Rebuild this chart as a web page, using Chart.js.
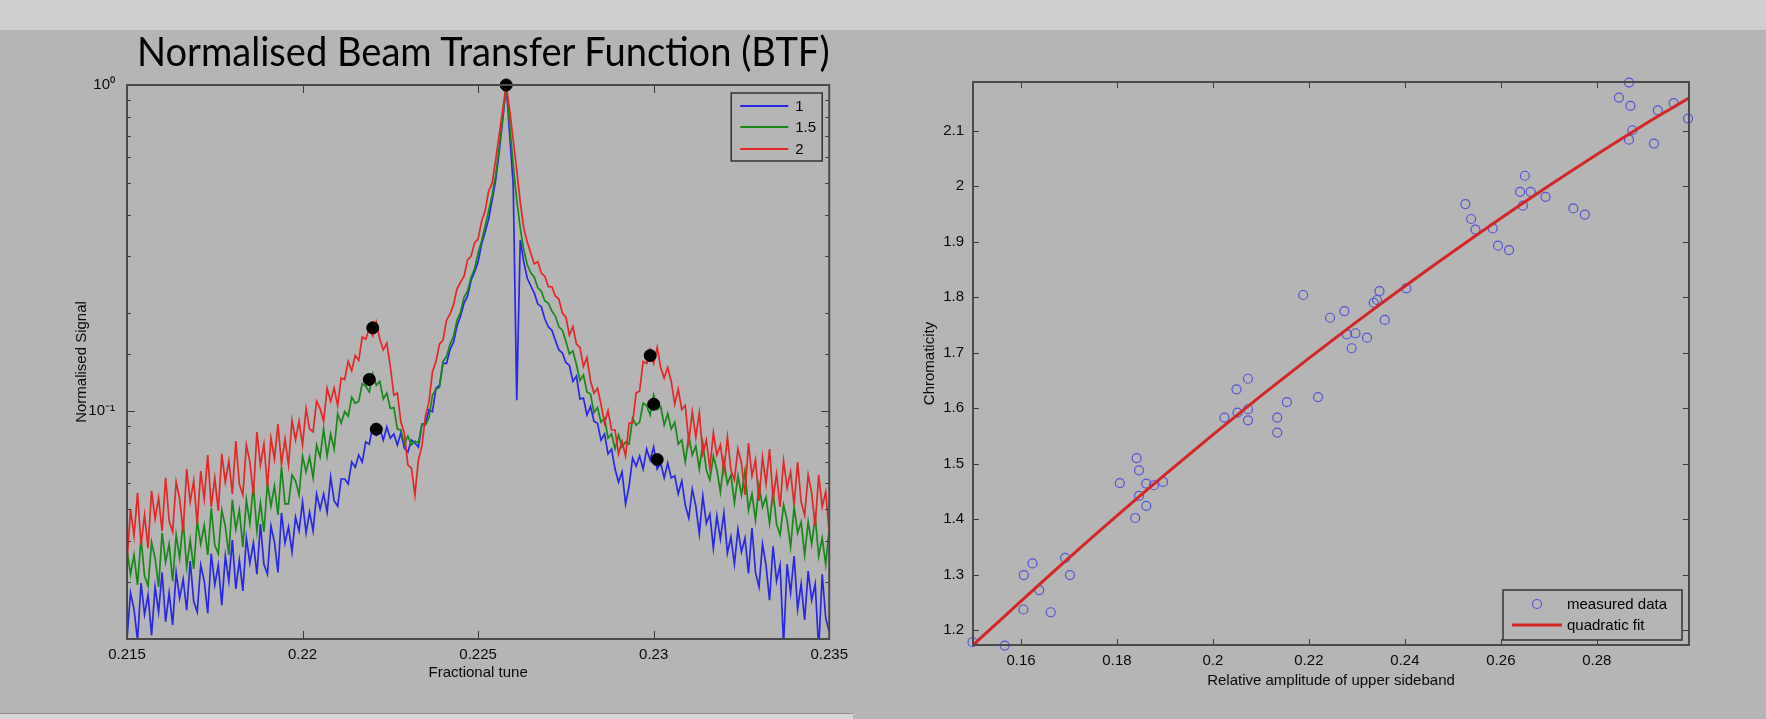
<!DOCTYPE html>
<html>
<head>
<meta charset="utf-8">
<title>BTF and chromaticity</title>
<script src="https://cdn.jsdelivr.net/npm/chart.js@4.4.1/dist/chart.umd.min.js"></script>
<style>
  body { margin: 0; width: 1766px; height: 719px; background: #b5b5b5; position: relative; overflow: hidden; }
  #topStrip { position: absolute; left: 0; top: 0; width: 1766px; height: 30px; background: #cfcfcf; }
  #leftFoot { position: absolute; left: 0; top: 713px; width: 853px; height: 6px; background: #d6d6d6; border-top: 1px solid #8c8c8c; }
  #btfTitle { position: absolute; left: 137px; top: 31px; font-family: Lato, "Open Sans", sans-serif; font-size: 40px; line-height: 40px; color: #000; white-space: nowrap; transform-origin: 0 0; }
  #leftBox { position: absolute; left: 0; top: 0; }
  #rightBox { position: absolute; left: 855px; top: 0; }
</style>
</head>
<body>
<div id="topStrip"></div>
<div id="leftFoot"></div>
<div id="leftBox"><canvas id="btfChart" width="855" height="719"></canvas></div>
<div id="rightBox"><canvas id="chromaChart" width="911" height="719"></canvas></div>
<div id="btfTitle">Normalised Beam Transfer Function (BTF)</div>
<script>
// ---- left panel: normalised BTF, one trace per setting ----
const tune = [
  0.2150,0.2151,0.2152,0.2153,0.2154,0.2155,0.2156,0.2157,0.2158,0.2159,
  0.2160,0.2161,0.2162,0.2163,0.2164,0.2165,0.2166,0.2167,0.2168,0.2169,
  0.2170,0.2171,0.2172,0.2173,0.2174,0.2175,0.2176,0.2177,0.2178,0.2179,
  0.2180,0.2181,0.2182,0.2183,0.2184,0.2185,0.2186,0.2187,0.2188,0.2189,
  0.2190,0.2191,0.2192,0.2193,0.2194,0.2195,0.2196,0.2197,0.2198,0.2199,
  0.2200,0.2201,0.2202,0.2203,0.2204,0.2205,0.2206,0.2207,0.2208,0.2209,
  0.2210,0.2211,0.2212,0.2213,0.2214,0.2215,0.2216,0.2217,0.2218,0.2219,
  0.2220,0.2221,0.2222,0.2223,0.2224,0.2225,0.2226,0.2227,0.2228,0.2229,
  0.2230,0.2231,0.2232,0.2233,0.2234,0.2235,0.2236,0.2237,0.2238,0.2239,
  0.2240,0.2241,0.2242,0.2243,0.2244,0.2245,0.2246,0.2247,0.2248,0.2249,
  0.2250,0.2251,0.2252,0.2253,0.2254,0.2255,0.2256,0.2257,0.2258,0.2259,
  0.2260,0.2261,0.2262,0.2263,0.2264,0.2265,0.2266,0.2267,0.2268,0.2269,
  0.2270,0.2271,0.2272,0.2273,0.2274,0.2275,0.2276,0.2277,0.2278,0.2279,
  0.2280,0.2281,0.2282,0.2283,0.2284,0.2285,0.2286,0.2287,0.2288,0.2289,
  0.2290,0.2291,0.2292,0.2293,0.2294,0.2295,0.2296,0.2297,0.2298,0.2299,
  0.2300,0.2301,0.2302,0.2303,0.2304,0.2305,0.2306,0.2307,0.2308,0.2309,
  0.2310,0.2311,0.2312,0.2313,0.2314,0.2315,0.2316,0.2317,0.2318,0.2319,
  0.2320,0.2321,0.2322,0.2323,0.2324,0.2325,0.2326,0.2327,0.2328,0.2329,
  0.2330,0.2331,0.2332,0.2333,0.2334,0.2335,0.2336,0.2337,0.2338,0.2339,
  0.2340,0.2341,0.2342,0.2343,0.2344,0.2345,0.2346,0.2347,0.2348,0.2349,
  0.2350
];

const signal1 = [
  .0200,.0277,.0247,.0198,.0297,.0238,.0273,.0205,.0289,.0242,
  .0320,.0226,.0277,.0221,.0320,.0267,.0305,.0245,.0347,.0261,
  .0242,.0337,.0301,.0240,.0365,.0293,.0337,.0254,.0359,.0301,
  .0402,.0285,.0349,.0281,.0408,.0342,.0394,.0316,.0450,.0339,
  .0316,.0444,.0396,.0320,.0487,.0394,.0441,.0370,.0473,.0429,
  .0527,.0423,.0490,.0429,.0557,.0501,.0557,.0490,.0628,.0530,
  .0511,.0619,.0619,.0598,.0698,.0673,.0733,.0698,.0804,.0792,
  .0900,.0844,.0887,.0815,.0893,.0826,.0851,.0787,.0857,.0770,
  .0749,.0815,.0798,.0776,.0912,.0912,.1011,.0996,.1175,.1200,
  .1400,.1400,.1545,.1627,.1827,.1956,.2144,.2254,.2520,.2672,
  .2869,.3256,.3540,.3878,.4440,.5110,.6230,.7810,1.000,.7030,
  .4940,.1080,.3350,.2869,.2555,.2423,.2301,.2129,.2090,.1915,
  .1814,.1770,.1650,.1540,.1508,.1410,.1380,.1233,.1281,.1089,
  .1096,.0972,.1033,.0931,.0918,.0815,.0851,.0739,.0765,.0664,
  .0606,.0651,.0519,.0589,.0718,.0678,.0728,.0664,.0765,.0708,
  .0776,.0664,.0693,.0624,.0693,.0624,.0633,.0557,.0611,.0515,
  .0470,.0576,.0511,.0420,.0549,.0453,.0483,.0380,.0477,.0405,
  .0487,.0367,.0411,.0339,.0434,.0370,.0408,.0318,.0438,.0320,
  .0289,.0391,.0337,.0263,.0385,.0301,.0337,.0192,.0339,.0277,
  .0359,.0247,.0295,.0229,.0323,.0263,.0295,.0185,.0316,.0232,
  .0210
];

const signal15 = [
  .0375,.0316,.0362,.0293,.0408,.0312,.0291,.0396,.0354,.0289,
  .0423,.0344,.0391,.0301,.0417,.0354,.0460,.0332,.0402,.0328,
  .0460,.0391,.0447,.0362,.0504,.0388,.0365,.0497,.0444,.0362,
  .0534,.0434,.0497,.0383,.0534,.0453,.0593,.0429,.0523,.0426,
  .0602,.0511,.0589,.0480,.0673,.0519,.0519,.0637,.0611,.0553,
  .0728,.0651,.0723,.0624,.0787,.0723,.0881,.0728,.0851,.0765,
  .0982,.0918,.0996,.0965,.1104,.1057,.1072,.1215,.1192,.1144,
  .1300,.1200,.1233,.1089,.1136,.1018,.1025,.0881,.0875,.0792,
  .0838,.0787,.0809,.0798,.0912,.0906,.0952,.1120,.1166,.1183,
  .1420,.1469,.1604,.1698,.1900,.2011,.2238,.2333,.2573,.2731,
  .3054,.3326,.3694,.4111,.4600,.5300,.6410,.7920,1.000,.7540,
  .5680,.4440,.3640,.3120,.2810,.2653,.2573,.2389,.2333,.2175,
  .2144,.2026,.1956,.1814,.1770,.1638,.1497,.1529,.1390,.1241,
  .1290,.1144,.1128,.0989,.1025,.0925,.0952,.0826,.0851,.0765,
  .0844,.0776,.0804,.0792,.0952,.0906,.0925,.1057,.1040,.0972,
  .1120,.1011,.1033,.0906,.0982,.0881,.0925,.0792,.0815,.0698,
  .0838,.0733,.0781,.0664,.0798,.0660,.0615,.0728,.0660,.0565,
  .0703,.0598,.0637,.0523,.0633,.0553,.0655,.0497,.0557,.0463,
  .0593,.0508,.0545,.0453,.0569,.0450,.0417,.0515,.0463,.0383,
  .0508,.0423,.0457,.0362,.0457,.0391,.0473,.0359,.0408,.0339,
  .0438
];

const signal2 = [
  .0344,.0501,.0414,.0561,.0388,.0480,.0380,.0569,.0467,.0541,
  .0429,.0624,.0460,.0426,.0606,.0538,.0426,.0664,.0527,.0611,
  .0450,.0655,.0538,.0733,.0508,.0624,.0494,.0739,.0606,.0703,
  .0557,.0809,.0598,.0553,.0787,.0698,.0553,.0863,.0683,.0792,
  .0585,.0826,.0712,.0912,.0688,.0820,.0683,.0938,.0815,.0931,
  .0787,.1018,.0881,.0863,.1072,.1018,.0931,.1175,.1072,.1175,
  .1040,.1263,.1250,.1420,.1330,.1480,.1430,.1686,.1662,.1789,
  .1698,.1873,.1662,.1540,.1615,.1370,.1120,.1136,.0925,.0857,
  .0683,.0669,.0553,.0708,.0781,.0965,.1065,.1321,.1420,.1604,
  .1650,.1900,.1983,.2120,.2372,.2485,.2592,.2910,.2989,.3280,
  .3373,.3823,.4111,.4727,.5000,.5890,.7030,.8380,1.000,.8380,
  .6780,.5490,.4380,.3640,.3300,.3050,.2830,.2870,.2650,.2590,
  .2406,.2406,.2254,.2206,.1997,.1942,.1710,.1814,.1604,.1568,
  .1370,.1459,.1241,.1136,.1175,.1050,.0918,.1003,.0875,.0875,
  .0739,.0809,.0728,.0918,.0918,.1136,.1152,.1420,.1400,.1540,
  .1400,.1568,.1360,.1263,.1360,.1233,.1050,.1166,.1010,.1040,
  .0804,.0996,.0832,.0989,.0739,.0815,.0669,.0857,.0733,.0787,
  .0655,.0832,.0660,.0615,.0765,.0693,.0553,.0798,.0633,.0708,
  .0530,.0723,.0598,.0765,.0538,.0642,.0508,.0703,.0581,.0651,
  .0515,.0698,.0527,.0480,.0637,.0561,.0444,.0637,.0508,.0565,
  .0423
];

// black markers on the main line and the two sidebands
const peakTune = [0.2258, 0.2220, 0.2219, 0.2221, 0.2299, 0.2300, 0.2301];
const peakSignal = [1, 0.180, 0.125, 0.088, 0.148, 0.105, 0.071];

const tuneTicks = [0.215, 0.22, 0.225, 0.23, 0.235];
const logTickLabels = { "0": "10\u2070", "-1": "10\u207B\u00B9" };

// ---- right panel: chromaticity vs sideband amplitude ----
const sidebandAmp = [
  0.1499,0.1566,0.1605,0.1606,0.1624,0.1638,0.1662,0.1692,0.1702,0.1806,
  0.1838,0.1841,0.1846,0.1846,0.1861,0.1861,0.1877,0.1896,0.2024,0.2049,
  0.2051,0.2073,0.2073,0.2073,0.2134,0.2134,0.2154,0.2188,0.2219,0.2244,
  0.2274,0.2279,0.2289,0.2297,0.2321,0.2335,0.2342,0.2347,0.2358,0.2403,
  0.2526,0.2538,0.2547,0.2583,0.2594,0.2617,0.2640,0.2650,0.2646,0.2662,
  0.2693,0.2751,0.2775,0.2846,0.2867,0.2870,0.2874,0.2867,0.2919,0.2927,
  0.2960,0.2990
];
const chromaticity = [
  1.178,1.172,1.237,1.299,1.320,1.272,1.232,1.330,1.299,1.465,
  1.402,1.510,1.488,1.442,1.464,1.424,1.461,1.467,1.583,1.634,
  1.592,1.653,1.598,1.578,1.583,1.556,1.611,1.804,1.620,1.763,
  1.775,1.733,1.708,1.735,1.727,1.790,1.795,1.811,1.759,1.816,
  1.968,1.941,1.922,1.924,1.893,1.885,1.990,2.019,1.965,1.990,
  1.981,1.960,1.949,2.160,2.187,2.145,2.101,2.084,2.077,2.137,
  2.150,2.122
];
const fitAmp = [0.15, 0.17, 0.19, 0.21, 0.23, 0.25, 0.27, 0.29, 0.2992];
const fitChroma = [1.173, 1.330, 1.480, 1.622, 1.756, 1.882, 2.001, 2.112, 2.159];

const ampTicks = [0.16, 0.18, 0.2, 0.22, 0.24, 0.26, 0.28];
const chromaTicks = [1.2, 1.3, 1.4, 1.5, 1.6, 1.7, 1.8, 1.9, 2, 2.1];

const panelGrey = "#b5b5b5";

Chart.defaults.font.family = "'Liberation Sans', Arial, sans-serif";
Chart.defaults.font.size = 15;
Chart.defaults.color = "#0a0a0a";

function pairs(xs, ys) {
   return xs.map((x, i) => ({ x: x, y: ys[i] }));
}

// MATLAB-style box: inward ticks on all four sides plus an in-axes legend
const matlabAxes = {
   id: "matlabAxes",
   afterDraw(chart, args, opts) {
      const { ctx, chartArea: a, scales } = chart;
      const xs = scales.x;
      const ys = scales.y;
      ctx.save();
      ctx.strokeStyle = "#3a3a3a";
      ctx.lineWidth = 1;
      ctx.beginPath();
      xs.ticks.forEach((t) => {
         const px = Math.round(xs.getPixelForValue(t.value)) + 0.5;
         ctx.moveTo(px, a.bottom);
         ctx.lineTo(px, a.bottom - opts.tickLen);
         ctx.moveTo(px, a.top);
         ctx.lineTo(px, a.top + opts.tickLen);
      });
      ys.ticks.forEach((t) => {
         const len = t.label ? opts.tickLen : opts.minorLen;
         const py = Math.round(ys.getPixelForValue(t.value)) + 0.5;
         ctx.moveTo(a.left, py);
         ctx.lineTo(a.left + len, py);
         ctx.moveTo(a.right, py);
         ctx.lineTo(a.right - len, py);
      });
      ctx.stroke();

      ctx.lineWidth = 2;
      ctx.strokeStyle = "#4a4a4a";
      ctx.strokeRect(a.left, a.top, a.right - a.left, a.bottom - a.top);

      // legend
      const lg = opts.legend;
      const bx = a.right - lg.right - lg.width;
      const by = lg.top !== undefined ? a.top + lg.top : a.bottom - lg.bottom - lg.height;
      ctx.fillStyle = panelGrey;
      ctx.fillRect(bx, by, lg.width, lg.height);
      ctx.lineWidth = 1.5;
      ctx.strokeStyle = "#333";
      ctx.strokeRect(bx, by, lg.width, lg.height);
      ctx.font = "15px 'Liberation Sans', Arial, sans-serif";
      ctx.textBaseline = "middle";
      ctx.textAlign = "left";
      lg.items.forEach((it, i) => {
         const ds = chart.data.datasets[it.ds];
         const cy = by + lg.rowY[i];
         ctx.strokeStyle = ds.borderColor;
         if (it.kind === "line") {
            ctx.lineWidth = it.width || ds.borderWidth;
            ctx.beginPath();
            ctx.moveTo(bx + lg.x0, cy);
            ctx.lineTo(bx + lg.x1, cy);
            ctx.stroke();
         } else {
            ctx.lineWidth = ds.borderWidth;
            ctx.beginPath();
            ctx.arc(bx + lg.mx, cy, ds.pointRadius, 0, Math.PI * 2);
            ctx.stroke();
         }
         ctx.fillStyle = "#000";
         ctx.fillText(ds.label, bx + lg.textX, cy + 1);
      });
      ctx.restore();
   },
};

const btfColors = { one: "rgb(40,40,228)", onehalf: "rgb(25,135,25)", two: "rgb(228,38,38)" };

new Chart(document.getElementById("btfChart"), {
   type: "line",
   data: {
      datasets: [
         { label: "1", data: pairs(tune, signal1), borderColor: btfColors.one, borderWidth: 1.7, pointRadius: 0, order: 3 },
         { label: "1.5", data: pairs(tune, signal15), borderColor: btfColors.onehalf, borderWidth: 1.7, pointRadius: 0, order: 2 },
         { label: "2", data: pairs(tune, signal2), borderColor: btfColors.two, borderWidth: 1.7, pointRadius: 0, order: 1 },
         {
            label: "peaks",
            data: pairs(peakTune, peakSignal),
            showLine: false,
            pointRadius: 6,
            backgroundColor: "#000",
            borderColor: "#000",
            order: 0,
            clip: false,
         },
      ],
   },
   options: {
      responsive: false,
      animation: false,
      events: [],
      layout: { padding: { left: 0, right: 24, top: 85, bottom: 0 } },
      scales: {
         x: {
            type: "linear",
            min: 0.215,
            max: 0.235,
            afterBuildTicks: (s) => {
               s.ticks = tuneTicks.map((v) => ({ value: v }));
            },
            afterFit: (s) => {
               s.height = 80;
            },
            grid: { display: false, drawTicks: false },
            border: { display: false },
            ticks: { padding: 7, autoSkip: false, maxRotation: 0, callback: (v) => String(v) },
            title: { display: true, text: "Fractional tune", padding: { top: 0, bottom: 37 } },
         },
         y: {
            type: "logarithmic",
            min: 0.02,
            max: 1,
            afterFit: (s) => {
               s.width = 127;
            },
            grid: { display: false, drawTicks: false },
            border: { display: false },
            ticks: {
               padding: 12,
               autoSkip: false,
               callback: (v) => {
                  const e = Math.log10(v);
                  if (Math.abs(e - Math.round(e)) < 1e-6) return logTickLabels[String(Math.round(e))] || "";
                  return "";
               },
            },
            title: { display: true, text: "Normalised Signal", padding: { top: 73, bottom: 0 } },
         },
      },
      plugins: {
         legend: { display: false },
         tooltip: { enabled: false },
         matlabAxes: {
            tickLen: 8,
            minorLen: 4,
            legend: {
               right: 7,
               top: 8,
               width: 91,
               height: 68,
               x0: 9,
               x1: 57,
               textX: 64,
               rowY: [13, 34, 56],
               items: [
                  { ds: 0, kind: "line", width: 2 },
                  { ds: 1, kind: "line", width: 2 },
                  { ds: 2, kind: "line", width: 2 },
               ],
            },
         },
      },
   },
   plugins: [matlabAxes],
});

new Chart(document.getElementById("chromaChart"), {
   type: "line",
   data: {
      datasets: [
         {
            label: "measured data",
            data: pairs(sidebandAmp, chromaticity),
            showLine: false,
            pointStyle: "circle",
            pointRadius: 4.5,
            backgroundColor: "rgba(0,0,0,0)",
            borderColor: "rgb(85,85,215)",
            borderWidth: 1.2,
            order: 1,
            clip: false,
         },
         {
            label: "quadratic fit",
            data: pairs(fitAmp, fitChroma),
            borderColor: "rgb(212,38,38)",
            borderWidth: 3,
            pointRadius: 0,
            cubicInterpolationMode: "monotone",
            order: 0,
         },
      ],
   },
   options: {
      responsive: false,
      animation: false,
      events: [],
      layout: { padding: { left: 0, right: 77, top: 82, bottom: 0 } },
      scales: {
         x: {
            type: "linear",
            min: 0.15,
            max: 0.2992,
            afterBuildTicks: (s) => {
               s.ticks = ampTicks.map((v) => ({ value: v }));
            },
            afterFit: (s) => {
               s.height = 74;
            },
            grid: { display: false, drawTicks: false },
            border: { display: false },
            ticks: { padding: 7, autoSkip: false, maxRotation: 0, callback: (v) => String(v) },
            title: { display: true, text: "Relative amplitude of upper sideband", padding: { top: 0, bottom: 29 } },
         },
         y: {
            type: "linear",
            min: 1.173,
            max: 2.188,
            afterBuildTicks: (s) => {
               s.ticks = chromaTicks.map((v) => ({ value: v }));
            },
            afterFit: (s) => {
               s.width = 118;
            },
            grid: { display: false, drawTicks: false },
            border: { display: false },
            ticks: { padding: 9, autoSkip: false, callback: (v) => String(v) },
            title: { display: true, text: "Chromaticity", padding: { top: 66, bottom: 0 } },
         },
      },
      plugins: {
         legend: { display: false },
         tooltip: { enabled: false },
         matlabAxes: {
            tickLen: 6,
            minorLen: 6,
            legend: {
               right: 7,
               bottom: 5,
               width: 179,
               height: 50,
               x0: 9,
               x1: 59,
               mx: 34,
               textX: 64,
               rowY: [14, 35],
               items: [
                  { ds: 0, kind: "marker" },
                  { ds: 1, kind: "line" },
               ],
            },
         },
      },
   },
   plugins: [matlabAxes],
});

// squeeze the title to the width it has in the figure
const titleEl = document.getElementById("btfTitle");
titleEl.style.transform = "scaleX(" + (693 / titleEl.scrollWidth).toFixed(4) + ")";
</script>
</body>
</html>
